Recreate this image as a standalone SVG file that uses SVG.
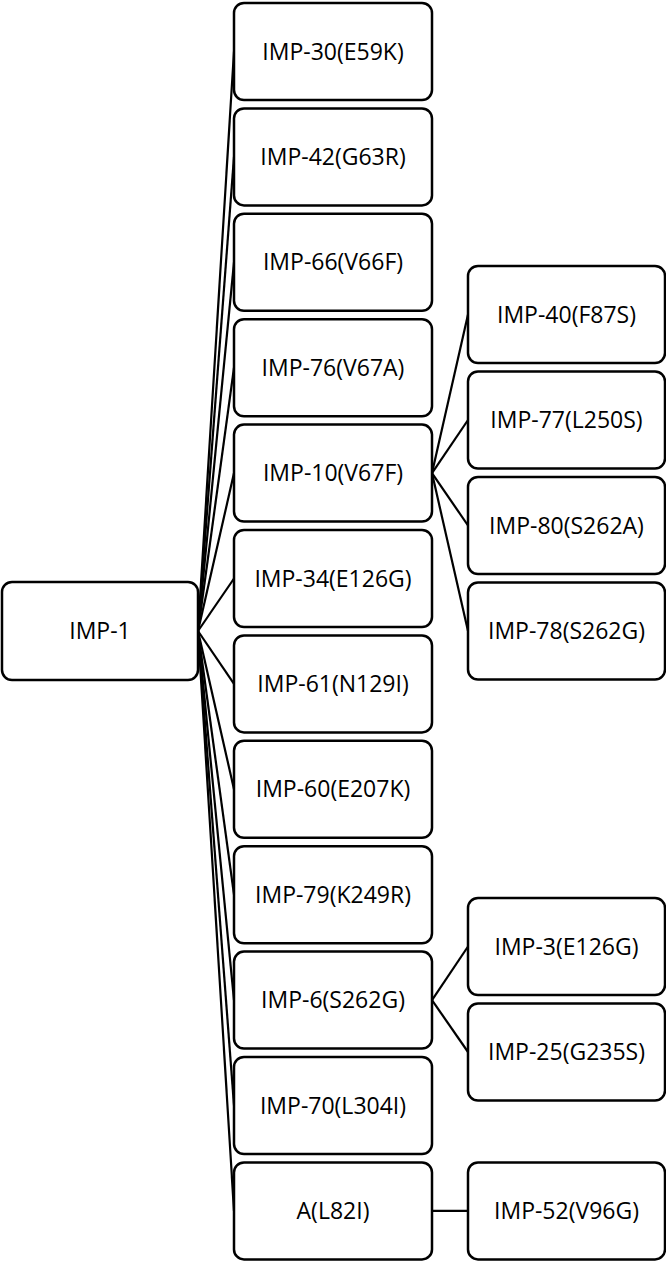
<svg xmlns="http://www.w3.org/2000/svg" width="666" height="1262" viewBox="0 0 666 1262">
<style>
.n rect{fill:#fff;stroke:#000;stroke-width:2.5}
.n text{font-family:"Open Sans","Liberation Sans",sans-serif;font-size:23px;fill:#000;text-anchor:middle}
.c line{stroke:#000;stroke-width:2.2}
</style>
<rect width="666" height="1262" fill="#fff"/>
<g class="c">
<line x1="198" y1="631" x2="234" y2="51.5"/>
<line x1="198" y1="631" x2="234" y2="156.9"/>
<line x1="198" y1="631" x2="234" y2="262.3"/>
<line x1="198" y1="631" x2="234" y2="367.7"/>
<line x1="198" y1="631" x2="234" y2="473.1"/>
<line x1="198" y1="631" x2="234" y2="578.5"/>
<line x1="198" y1="631" x2="234" y2="683.9"/>
<line x1="198" y1="631" x2="234" y2="789.3"/>
<line x1="198" y1="631" x2="234" y2="894.7"/>
<line x1="198" y1="631" x2="234" y2="1000.1"/>
<line x1="198" y1="631" x2="234" y2="1105.5"/>
<line x1="198" y1="631" x2="234" y2="1210.9"/>
<line x1="432" y1="473.1" x2="468" y2="314.5"/>
<line x1="432" y1="473.1" x2="468" y2="420"/>
<line x1="432" y1="473.1" x2="468" y2="525.5"/>
<line x1="432" y1="473.1" x2="468" y2="631"/>
<line x1="432" y1="1000.1" x2="468" y2="946.5"/>
<line x1="432" y1="1000.1" x2="468" y2="1052"/>
<line x1="432" y1="1210.9" x2="468" y2="1210.9"/>
</g>
<g id="imp1" class="n"><rect x="2" y="582" width="196" height="98" rx="10"/><text x="100" y="639">IMP-1</text></g>
<g id="imp30" class="n"><rect x="234" y="3" width="198" height="97" rx="10"/><text x="333" y="59.5">IMP-30(E59K)</text></g>
<g id="imp42" class="n"><rect x="234" y="108.4" width="198" height="97" rx="10"/><text x="333" y="164.9">IMP-42(G63R)</text></g>
<g id="imp66" class="n"><rect x="234" y="213.8" width="198" height="97" rx="10"/><text x="333" y="270.3">IMP-66(V66F)</text></g>
<g id="imp76" class="n"><rect x="234" y="319.2" width="198" height="97" rx="10"/><text x="333" y="375.7">IMP-76(V67A)</text></g>
<g id="imp10" class="n"><rect x="234" y="424.6" width="198" height="97" rx="10"/><text x="333" y="481.1">IMP-10(V67F)</text></g>
<g id="imp34" class="n"><rect x="234" y="530" width="198" height="97" rx="10"/><text x="333" y="586.5">IMP-34(E126G)</text></g>
<g id="imp61" class="n"><rect x="234" y="635.4" width="198" height="97" rx="10"/><text x="333" y="691.9">IMP-61(N129I)</text></g>
<g id="imp60" class="n"><rect x="234" y="740.8" width="198" height="97" rx="10"/><text x="333" y="797.3">IMP-60(E207K)</text></g>
<g id="imp79" class="n"><rect x="234" y="846.2" width="198" height="97" rx="10"/><text x="333" y="902.7">IMP-79(K249R)</text></g>
<g id="imp6" class="n"><rect x="234" y="951.6" width="198" height="97" rx="10"/><text x="333" y="1008.1">IMP-6(S262G)</text></g>
<g id="imp70" class="n"><rect x="234" y="1057" width="198" height="97" rx="10"/><text x="333" y="1113.5">IMP-70(L304I)</text></g>
<g id="aL82I" class="n"><rect x="234" y="1162.4" width="198" height="97" rx="10"/><text x="333" y="1218.9">A(L82I)</text></g>
<g id="imp40" class="n"><rect x="468" y="266" width="197" height="97" rx="10"/><text x="566.5" y="322.5">IMP-40(F87S)</text></g>
<g id="imp77" class="n"><rect x="468" y="371.5" width="197" height="97" rx="10"/><text x="566.5" y="428">IMP-77(L250S)</text></g>
<g id="imp80" class="n"><rect x="468" y="477" width="197" height="97" rx="10"/><text x="566.5" y="533.5">IMP-80(S262A)</text></g>
<g id="imp78" class="n"><rect x="468" y="582.5" width="197" height="97" rx="10"/><text x="566.5" y="639">IMP-78(S262G)</text></g>
<g id="imp3" class="n"><rect x="468" y="898" width="197" height="97" rx="10"/><text x="566.5" y="954.5">IMP-3(E126G)</text></g>
<g id="imp25" class="n"><rect x="468" y="1003.5" width="197" height="97" rx="10"/><text x="566.5" y="1060">IMP-25(G235S)</text></g>
<g id="imp52" class="n"><rect x="468" y="1162.4" width="197" height="97" rx="10"/><text x="566.5" y="1218.9">IMP-52(V96G)</text></g>
</svg>
